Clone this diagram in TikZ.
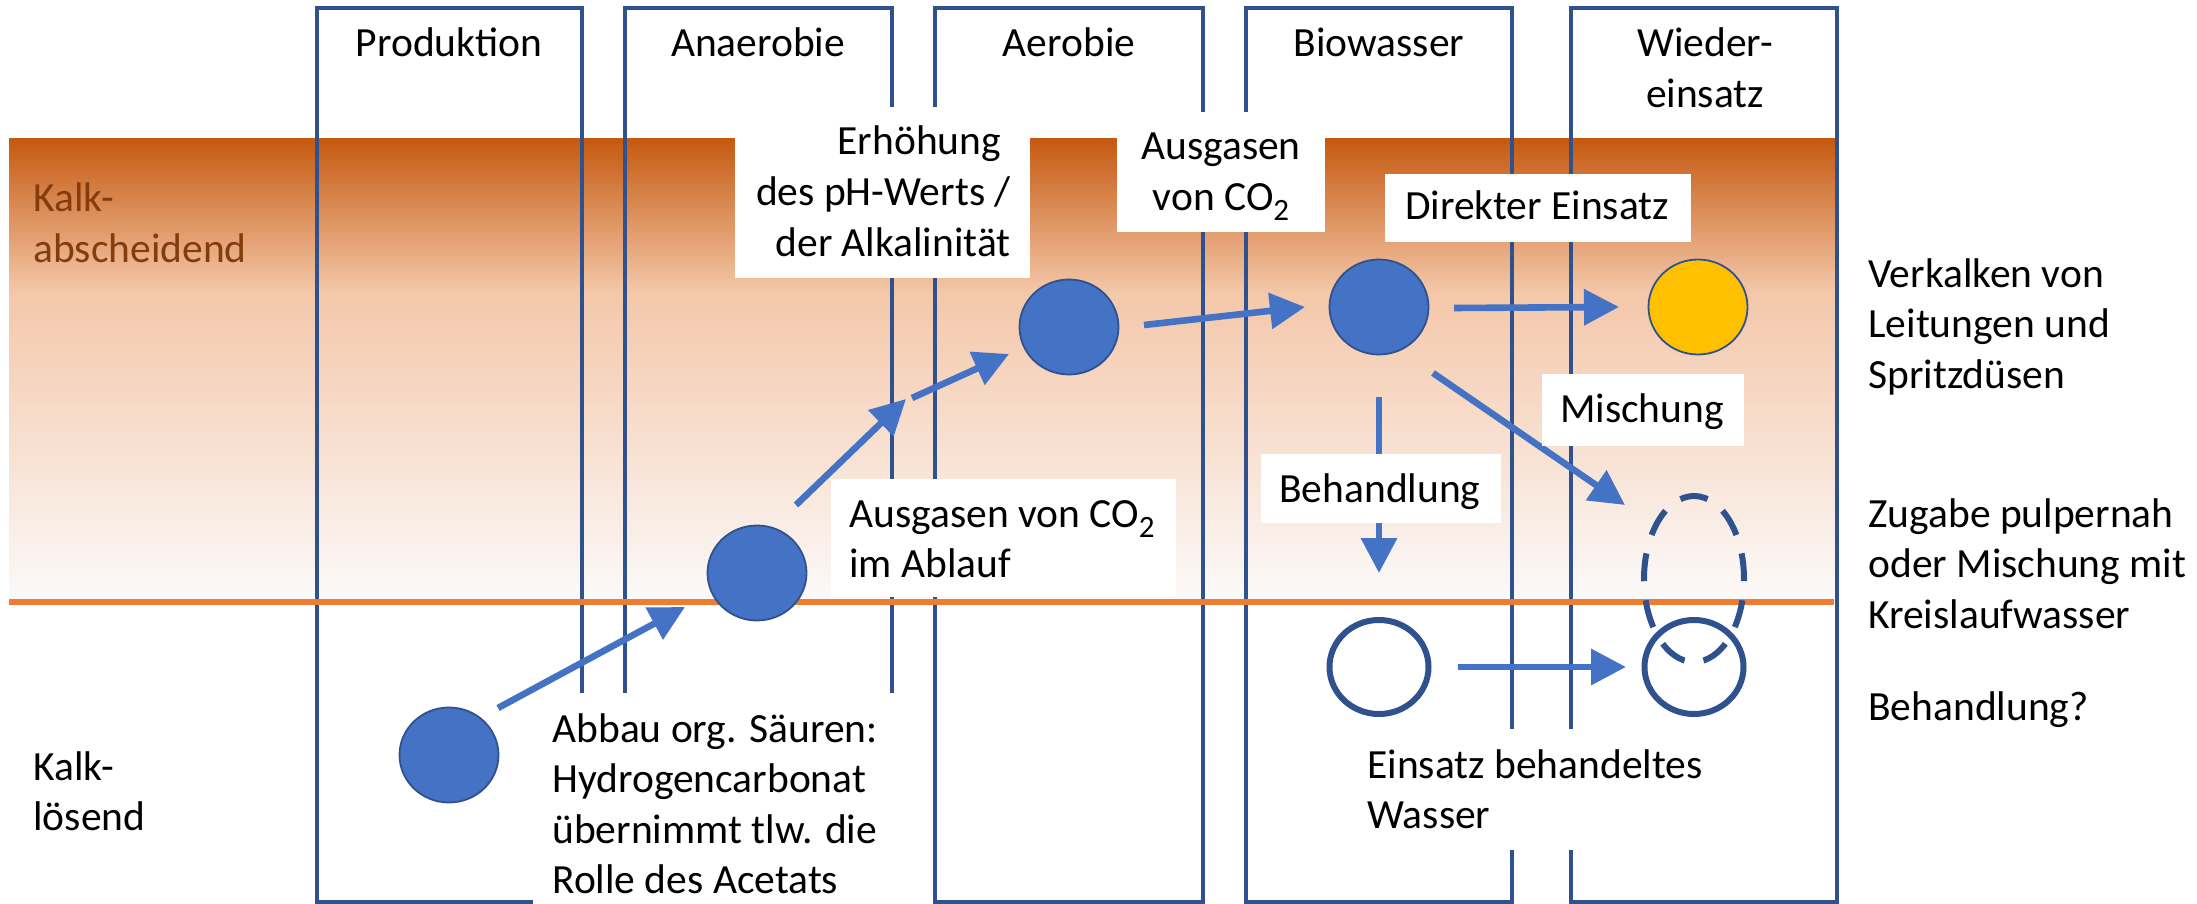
\documentclass[tikz,border=0pt]{standalone}
\usepackage{fontspec}
\setmainfont{Carlito}
\usetikzlibrary{arrows.meta,shapes.geometric}
\definecolor{colblue}{HTML}{2F528F}
\definecolor{arrblue}{HTML}{4472C4}
\definecolor{kalkyellow}{HTML}{FFC000}
\definecolor{lineorange}{HTML}{ED7D31}
\definecolor{kalkbrown}{HTML}{843C0C}
\definecolor{gradtop}{HTML}{C55A11}
\definecolor{gradmid}{HTML}{F4C7A9}
\definecolor{gradbot}{HTML}{FBFAFA}
\pgfdeclareverticalshading{kalkband}{100bp}{color(0bp)=(gradbot); color(25bp)=(gradbot); color(58.5bp)=(gradmid); color(75bp)=(gradtop); color(100bp)=(gradtop)}
\newcommand\mylines[2]{\begin{tabular}[t]{@{}#1@{}}#2\end{tabular}}
\newcommand\mysub[1]{\raisebox{-5pt}{\fontsize{15.5}{15}\selectfont #1}}
\begin{document}
\begin{tikzpicture}[x=0.5pt,y=-0.5pt,
  colbox/.style={draw=colblue, line width=2pt},
  bluedot/.style={ellipse, draw=colblue, line width=0.9pt, fill=arrblue, minimum width=49.5pt, minimum height=47.5pt, inner sep=0pt},
  yellowdot/.style={bluedot, fill=kalkyellow},
  opendot/.style={ellipse, draw=colblue, line width=3pt, minimum width=49.5pt, minimum height=47pt, inner sep=0pt},
  dashring/.style={ellipse, draw=colblue, line width=3pt, minimum width=50pt, minimum height=83pt, inner sep=0pt, dash pattern=on 14pt off 9.571pt, dash phase=1.107pt},
  arr/.style={draw=arrblue, line width=3.3pt, -{Triangle[length=17.5pt,width=17.5pt]}},
  lbl/.style={inner sep=0pt, font=\fontsize{20.75}{25.3}\selectfont},
  whitebox/.style={fill=white}
]
\useasboundingbox (0,0) rectangle (2197,904);
% gradient band
\shade[shading=kalkband] (9,139) rectangle (1836.5,602);
% columns
\draw[colbox] (316.5,8.5) rectangle (581.5,901.5);
\draw[colbox] (625,8.5) rectangle (891.5,901.5);
\draw[colbox] (935,8.5) rectangle (1203,901.5);
\draw[colbox] (1246,8.5) rectangle (1512,901.5);
\draw[colbox] (1571,8.5) rectangle (1836.5,901.5);
% boundary line
\draw[line width=3pt, lineorange] (9,602) -- (1834,602);
% states
\node[bluedot] (E1) at (449,755) {};
\node[bluedot] (E2) at (757,573) {};
\node[bluedot] (E3) at (1069,327) {};
\node[bluedot] (E4) at (1379,307) {};
\node[yellowdot] (E5) at (1698,307) {};
\node[opendot] (E6) at (1379,667) {};
\node[opendot] (E7) at (1694,667) {};
\node[dashring] (D) at (1694,579) {};
\coordinate (brk1) at (906,399);
\coordinate (brk2) at (912,398);
% arrows
\draw[arr] ([shift={(49,-47)}]E1.center) -- ([shift={(-72,34)}]E2.center);
\draw[arr] ([shift={(39,-68)}]E2.center) -- (brk1);
\draw[arr] (brk2) -- ([shift={(-60,27)}]E3.center);
\draw[arr] ([shift={(75,-2)}]E3.center) -- ([shift={(-74,0)}]E4.center);
\draw[arr] ([shift={(75,1)}]E4.center) -- ([shift={(-79,0)}]E5.center);
\draw[arr] ([shift={(54,66)}]E4.center) -- ([shift={(-69,-74)}]D.center);
\draw[arr] ([shift={(0,90)}]E4.center) -- ([shift={(0,-94)}]E6.center);
\draw[arr] ([shift={(79,0)}]E6.center) -- ([shift={(-68,0)}]E7.center);
% white label boxes
\fill[whitebox] (735,107) rectangle (1030,278);
\fill[whitebox] (1117,112) rectangle (1325,232);
\fill[whitebox] (1385,174) rectangle (1691,242);
\fill[whitebox] (1542,374) rectangle (1744,446);
\fill[whitebox] (1261,454) rectangle (1501,523);
\fill[whitebox] (831,479) rectangle (1176,597);
\fill[whitebox] (533,693) rectangle (915,904);
\fill[whitebox] (1350,729) rectangle (1720,850);
% headers
\node[lbl, anchor=base] (hProd) at (449,57) {Produktion};
\node[lbl, anchor=base] (hAna) at (758,57) {Anaerobie};
\node[lbl, anchor=base] (hAer) at (1069,57) {Aerobie};
\node[lbl, anchor=base] (hBio) at (1379,57) {Biowasser};
\node[lbl, anchor=base] (hWie) at (1705,57) {\mylines{c}{Wieder-\\einsatz}};
% side labels
\node[lbl, anchor=base west, text=kalkbrown] (kAb) at (33,212) {\mylines{l}{Kalk-\\abscheidend}};
\node[lbl, anchor=base west] (kLo) at (33,780) {\mylines{l}{Kalk-\\lösend}};
\node[lbl, anchor=base west] (rVer) at (1868,287) {\mylines{l}{Verkalken von\\Leitungen und\\Spritzdüsen}};
\node[lbl, anchor=base west] (rZug) at (1868,527) {\mylines{l}{Zugabe pulpernah\\oder Mischung mit\\Kreislaufwasser}};
\node[lbl, anchor=base west] (rBeh) at (1868,720) {Behandlung?};
% box texts
\node[lbl, anchor=base east] (tErh) at (1011,155) {\mylines{r}{Erhöhung\kern.23em\\des pH-Werts /\\der Alkalinität}};
\node[lbl, anchor=base] (tAus1) at (1221,160) {\mylines{c}{Ausgasen\\von CO\mysub{2}}};
\node[lbl, anchor=base] (tDir) at (1537,220) {Direkter Einsatz};
\node[lbl, anchor=base] (tMis) at (1642,422) {Mischung};
\node[lbl, anchor=base] (tBeh) at (1380,502) {Behandlung};
\node[lbl, anchor=base west] (tAus2) at (849,527) {\mylines{l}{Ausgasen von CO\mysub{2}\\im Ablauf}};
\node[lbl, anchor=base west] (tAbb) at (552,742) {\mylines{l}{Abbau org. Säuren:\\Hydrogencarbonat\\übernimmt tlw. die\\Rolle des Acetats}};
\node[lbl, anchor=base west] (tEin) at (1367,778) {\mylines{l}{Einsatz behandeltes\\Wasser}};
\end{tikzpicture}
\end{document}
